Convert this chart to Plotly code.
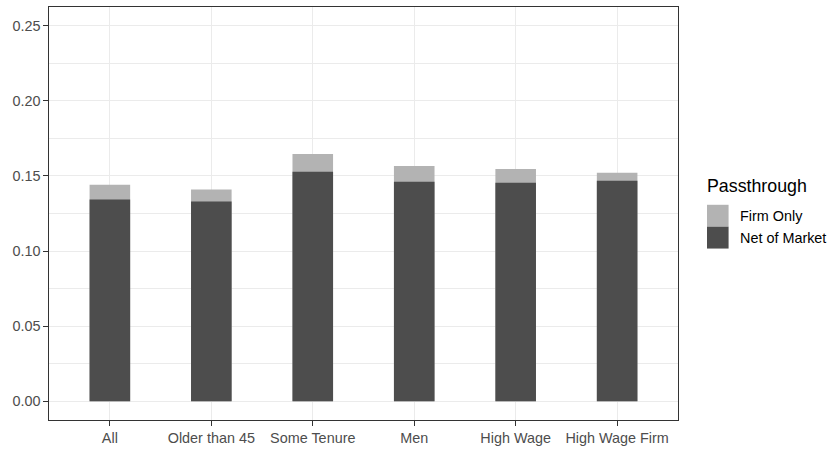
import plotly.graph_objects as go

categories = ["All", "Older than 45", "Some Tenure", "Men", "High Wage", "High Wage Firm"]
firm_only = [0.1442, 0.1409, 0.1646, 0.1567, 0.1547, 0.1521]
net_of_market = [0.1343, 0.1330, 0.1528, 0.1462, 0.1455, 0.1468]
series_names = ["Firm Only", "Net of Market"]
series_colors = ["#B3B3B3", "#4D4D4D"]
y_ticks = [0.00, 0.05, 0.10, 0.15, 0.20, 0.25]
legend_title = "Passthrough"

FONT = "Liberation Sans, Arial, Helvetica, sans-serif"
TXT = 14.4
TTL = 17.8

fig = go.Figure()
for name, vals, col in zip(series_names, [firm_only, net_of_market], series_colors):
    fig.add_trace(go.Bar(x=categories, y=vals, name=name, marker=dict(color=col, line=dict(width=0)),
                         width=0.4, showlegend=False))

L, R, T, B = 48.5, 152.3, 5.3, 28.7
W, H = 830, 451
pw, ph = W - L - R, H - T - B

fig.update_layout(
    width=W, height=H, barmode="overlay",
    margin=dict(l=L, r=R, t=T, b=B, pad=0),
    paper_bgcolor="white", plot_bgcolor="white",
    font=dict(family=FONT, size=TXT, color="#4D4D4D"),
)
fig.update_xaxes(
    type="category", range=[-0.6, 5.6],
    showgrid=True, gridcolor="#EBEBEB", gridwidth=1.3,
    showline=True, linecolor="#333333", linewidth=1.3, mirror=True,
    ticks="outside", ticklen=4.5, tickcolor="#333333", tickwidth=1.3,
    tickfont=dict(family=FONT, size=TXT, color="#4D4D4D"),
    zeroline=False,
)
fig.update_yaxes(
    range=[-0.0125, 0.2625], tickvals=y_ticks, ticktext=[f"{v:.2f}" for v in y_ticks],
    showgrid=True, gridcolor="#EBEBEB", gridwidth=1.3,
    minor=dict(tickvals=[0.025, 0.075, 0.125, 0.175, 0.225], showgrid=True, gridcolor="#EBEBEB", gridwidth=0.65, ticks=""),
    showline=True, linecolor="#333333", linewidth=1.3, mirror=True,
    ticks="outside", ticklen=4.5, tickcolor="#333333", tickwidth=1.3,
    tickfont=dict(family=FONT, size=TXT, color="#4D4D4D"),
    zeroline=False,
)

def px_x(x):
    return (x - L) / pw

def px_y(y):
    return (H - B - y) / ph

# custom legend (ggplot style keys)
fig.add_annotation(xref="paper", yref="paper", x=px_x(705), y=px_y(186), text=legend_title,
                   showarrow=False, xanchor="left", yanchor="middle",
                   font=dict(family=FONT, size=TTL, color="black"))
key_top = 205.0
key_h = 22.1
for i, (name, col) in enumerate(zip(series_names, series_colors)):
    y0 = key_top + i * key_h
    fig.add_shape(type="rect", xref="paper", yref="paper",
                  x0=px_x(706.7), x1=px_x(728.3), y0=px_y(y0 + key_h), y1=px_y(y0),
                  fillcolor=col, line=dict(width=0))
    fig.add_annotation(xref="paper", yref="paper", x=px_x(737.5), y=px_y(y0 + key_h / 2), text=name,
                       showarrow=False, xanchor="left", yanchor="middle",
                       font=dict(family=FONT, size=TXT, color="black"))

fig.write_html("out.html", config={"displayModeBar": False},
               post_script="document.body.style.margin='0';document.body.style.overflow='hidden';")
